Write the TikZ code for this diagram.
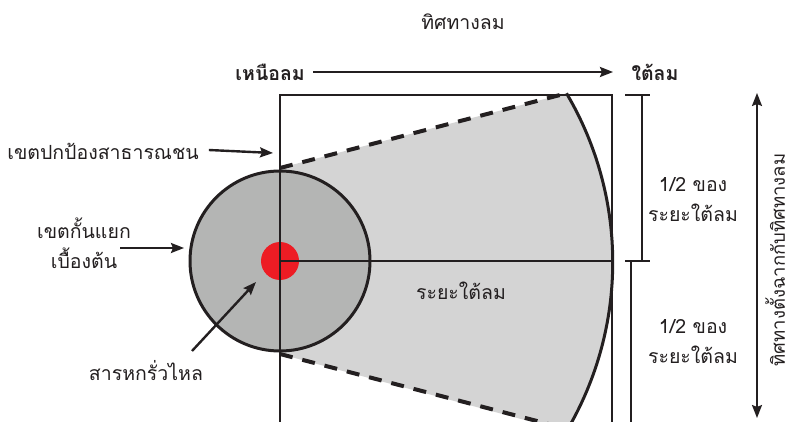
\documentclass[tikz,border=0pt]{standalone}
\usepackage{fontspec}
\newfontfamily\thai[Script=Thai]{Loma}
\usetikzlibrary{arrows.meta}
\definecolor{zoneA}{HTML}{D4D4D4}
\definecolor{zoneB}{HTML}{B4B5B4}
\definecolor{spill}{HTML}{ED1C24}
\definecolor{ink}{HTML}{231F20}
\tikzset{
  lbl/.style={font=\thai\fontsize{19.5}{30}\selectfont, text=ink, align=center, inner sep=0pt},
  ptr/.style={draw=ink, line width=2.4pt, -{Stealth[length=13pt,width=10pt,inset=2pt]}},
  dbl/.style={draw=ink, line width=2pt, {Stealth[length=13pt,width=10pt,inset=2pt]}-{Stealth[length=13pt,width=10pt,inset=2pt]}},
  frame/.style={draw=ink, line width=1.8pt},
  thick outline/.style={draw=ink, line width=3pt},
  dashline/.style={draw=ink, line width=4pt, dash pattern=on 13pt off 10pt}
}
\begin{document}
\begin{tikzpicture}[x=1pt,y=-1pt]
\useasboundingbox (0,0) rectangle (793,422);
\clip (0,0) rectangle (793,422);
% geometry
\coordinate (C) at (280,261);
\coordinate (T) at (280,168);
\coordinate (B) at (280,354);
\coordinate (AT) at (566.5,93.3);
\coordinate (AB) at (566.5,428.7);
% plume sector
\fill[zoneA] (T) -- (AT) arc[start angle=30.6, end angle=-30.6, radius=332pt] -- (B) -- cycle;
% frame
\draw[frame] (280,430) -- (280,95) -- (612,95) -- (612,430);
% isolation circle
\draw[thick outline, fill=zoneB] (C) circle[radius=90pt];
% spill
\fill[spill] (C) circle[radius=19pt];
\draw[frame] (280,95) -- (280,430);
\draw[frame] (C) -- (612,261);
% dashed edges
\draw[dashline] (T) -- (AT);
\draw[dashline] (B) -- (AB);
% arc
\draw[thick outline] (AT) arc[start angle=30.6, end angle=-30.6, radius=332pt];
% dimension bars
\draw[frame] (625,95) -- (650,95);
\draw[frame] (642,95) -- (642,261);
\draw[frame] (625,261) -- (650,261);
\draw[frame] (631,261) -- (631,430);
% labels
\node[lbl] (wind) at (463,22) {ทิศทางลม};
\node[lbl, font=\thai\bfseries\fontsize{19.5}{30}\selectfont, anchor=east] (up) at (305,72) {เหนือลม};
\node[lbl, font=\thai\bfseries\fontsize{19.5}{30}\selectfont] (down) at (655,72) {ใต้ลม};
\coordinate (ub) at (613,72);
\draw[ptr] (up.east) ++(8,0) -- (ub);
\node[lbl] (pub) at (103,151) {เขตปกป้องสาธารณชน};
\coordinate (pubTip) at (273,153);
\draw[ptr] (pub.east) ++(10,-1) -- (pubTip);
\node[lbl] (iso) at (84,243) {เขตกั้นแยก\\เบื้องต้น};
\coordinate (isoTip) at (184,248);
\draw[ptr] (120,248) -- (isoTip);
\node[lbl] (spl) at (146,371) {สารหกรั่วไหล};
\coordinate (splTip) at (256,282);
\draw[ptr] (192,351) -- (splTip);
\node[lbl] (dist) at (461,291) {ระยะใต้ลม};
\node[lbl] (half1) at (693,200) {1/2 ของ\\ระยะใต้ลม};
\node[lbl] (half2) at (693,342) {1/2 ของ\\ระยะใต้ลม};
\coordinate (vt) at (757,93);
\coordinate (vb) at (757,418);
\draw[dbl] (vt) -- (vb);
\node[lbl, font=\thai\fontsize{18.5}{30}\selectfont, rotate=90] (cross) at (775,260) {ทิศทางตั้งฉากกับทิศทางลม};
\end{tikzpicture}
\end{document}
